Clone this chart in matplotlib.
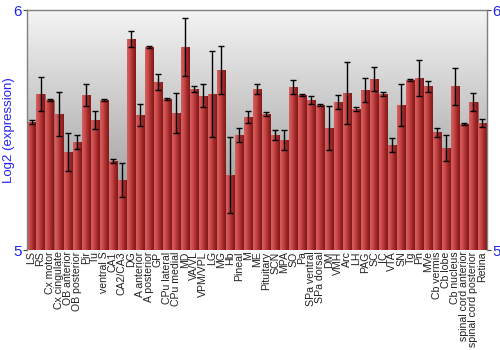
# Bar chart of Log2 expression across brain regions
import numpy as np
import matplotlib
matplotlib.use('Agg')
import matplotlib.pyplot as plt
from matplotlib.colors import LinearSegmentedColormap

plt.rcParams['font.family'] = ['Liberation Sans', 'DejaVu Sans']

# Data
regions = ['LS', 'RS', 'Cx motor', 'Cx cingulate', 'OB anterior', 'OB posterior', 'Pir', 'Tu',
           'ventral S', 'CA1', 'CA2/CA3', 'DG', 'A anterior', 'A posterior', 'GP', 'CPu lateral',
           'CPu medial', 'MD', 'VA/VL', 'VPM/VPL', 'LG', 'MG', 'Hb', 'Pineal', 'M', 'ME',
           'Pituitary', 'SCN', 'MPA', 'SO', 'Pa', 'SPa ventral', 'SPa dorsal', 'DM', 'VMH', 'Arc',
           'LH', 'PAG', 'SC', 'IC', 'VTA', 'SN', 'Tg', 'Pn', 'MVe', 'Cb vermis', 'Cb lobe',
           'Cb nucleus', 'spinal cord anterior', 'spinal cord posterior', 'Retina']
values = [5.533, 5.65, 5.625, 5.567, 5.408, 5.45, 5.646, 5.542,
          5.625, 5.371, 5.292, 5.879, 5.5625, 5.846, 5.70, 5.629,
          5.571, 5.846, 5.67, 5.642, 5.65, 5.75, 5.3125, 5.479, 5.554, 5.67,
          5.567, 5.479, 5.458, 5.679, 5.646, 5.625, 5.604, 5.508, 5.617, 5.654,
          5.5875, 5.667, 5.7125, 5.65, 5.4375, 5.604, 5.708, 5.717, 5.683, 5.49, 5.425,
          5.683, 5.525, 5.617, 5.529]
errors = [0.01, 0.07, 0.006, 0.092, 0.079, 0.03, 0.046, 0.038,
          0.003, 0.008, 0.07, 0.033, 0.046, 0.006, 0.035, 0.003,
          0.085, 0.12, 0.013, 0.048, 0.18, 0.1, 0.158, 0.031, 0.025, 0.02,
          0.01, 0.019, 0.04, 0.03, 0.004, 0.017, 0.004, 0.09, 0.03, 0.13,
          0.008, 0.05, 0.052, 0.008, 0.03, 0.088, 0.004, 0.075, 0.023, 0.02, 0.054,
          0.077, 0.005, 0.037, 0.015]

blue = '#2222ee'
fig = plt.figure(figsize=(5, 3.5), dpi=100)
ax = fig.add_axes([0.054, 0.2857, 0.92, 0.6857])

x = np.arange(len(regions))
ax.set_xlim(-0.5, len(regions) - 0.5)
ax.set_ylim(5, 6)

# background gradient, light on top, grey at the bottom
bg = LinearSegmentedColormap.from_list('bg', ['#888888', '#f4f4f4'])
ax.imshow(np.linspace(0, 1, 256).reshape(-1, 1), cmap=bg, aspect='auto',
          extent=[-0.5, len(regions) - 0.5, 5, 6], origin='lower', zorder=0)

bars = ax.bar(x, [v - 5 for v in values], bottom=5, width=0.9,
              color='#b83a3a', edgecolor=(0.6, 0.2, 0.2, 0.5), linewidth=0.6, zorder=1)

# horizontal shading on each bar
red = LinearSegmentedColormap.from_list('red', ['#d86060', '#c84a4a', '#a42a2a', '#801818'])
grad = np.linspace(0, 1, 64).reshape(1, -1)
for b in bars:
    x0, y0 = b.get_x(), b.get_y()
    im = ax.imshow(grad, cmap=red, aspect='auto', zorder=2,
                   extent=[x0, x0 + b.get_width(), y0, y0 + b.get_height()])
    im.set_clip_path(b)

ax.errorbar(x, values, yerr=errors, fmt='none', ecolor='black', elinewidth=1.0,
            capsize=2.2, capthick=1.0, zorder=3)

ax.set_xticks(x)
ax.set_xticklabels(regions, rotation=90, fontsize=7.6, color='#222222')
ax.tick_params(axis='x', length=0, pad=1)

ax.set_yticks([5, 6])
ax.set_yticklabels(['5', '6'], fontsize=11, color=blue)
ax.tick_params(axis='y', left=True, right=True, labelleft=True, labelright=True,
               length=3, pad=1, color='#444444')
ax.set_ylabel('Log2 (expression)', color=blue, fontsize=9.5)
ax.yaxis.set_label_coords(-0.026, 0.5)

for s in ax.spines.values():
    s.set_color('#808080')
    s.set_linewidth(1.0)
ax.spines['bottom'].set_visible(False)

fig.savefig('out.png', dpi=100)
